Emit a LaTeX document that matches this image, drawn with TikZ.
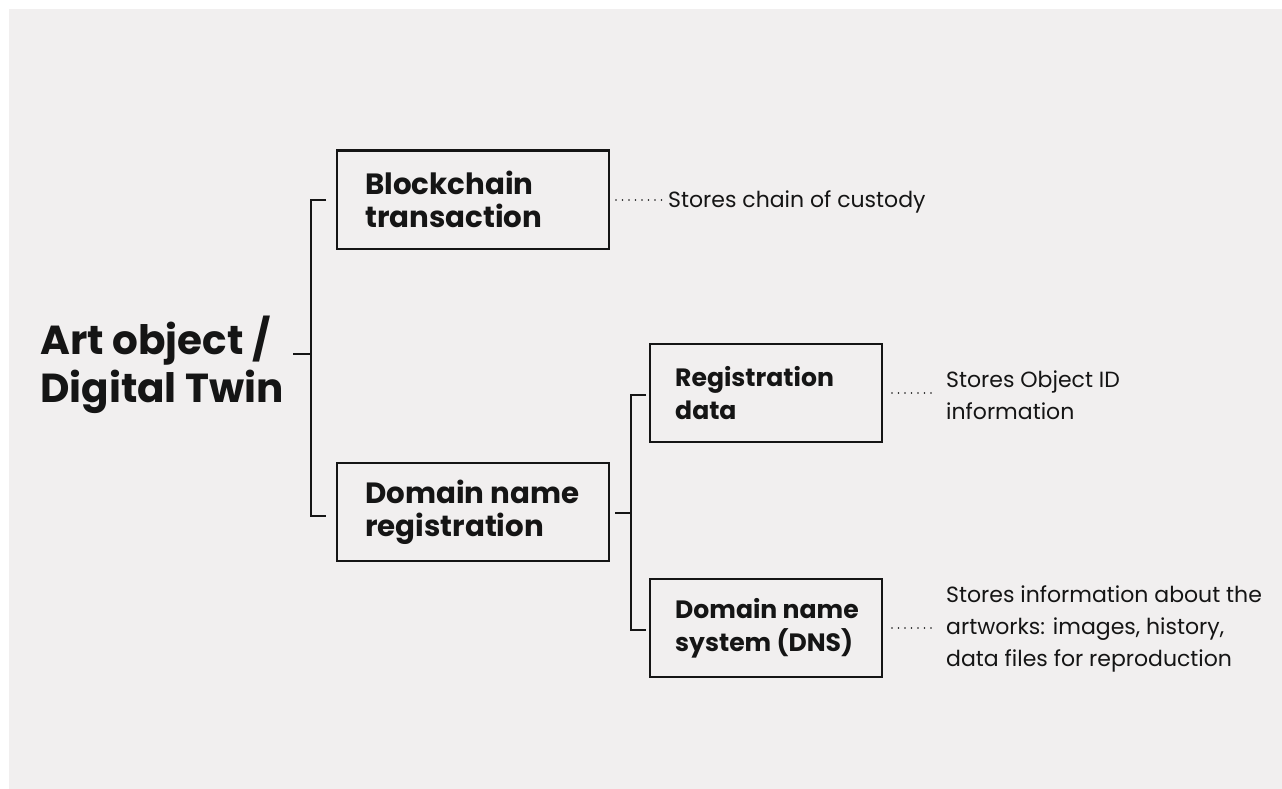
\documentclass[tikz,border=0pt]{standalone}
\usepackage{fontspec}
\setmainfont{Poppins}
\definecolor{bg}{HTML}{F1EFEF}
\definecolor{ink}{HTML}{151515}
\begin{document}
\begin{tikzpicture}[x=1pt,y=-1pt,
  boxnode/.style={draw=ink, line width=2pt, minimum height=98pt, inner sep=0pt},
  widebox/.style={boxnode, minimum width=272pt},
  narrowbox/.style={boxnode, minimum width=232pt},
  boxtext/.style={anchor=west, align=left, inner sep=0pt, text=ink},
  bigtext/.style={boxtext, font=\bfseries\fontsize{29.3}{33}\selectfont},
  smalltext/.style={boxtext, font=\bfseries\fontsize{25.1}{33}\selectfont},
  desc/.style={anchor=west, align=left, inner sep=0pt, text=ink, font=\fontsize{22}{32}\selectfont},
  bracket/.style={draw=ink, line width=2pt},
  dotline/.style={draw=ink, line width=1.8pt, line cap=round, dash pattern=on 0pt off 6.5pt}]
\useasboundingbox (0,0) rectangle (1282,789);
\fill[white] (0,0) rectangle (1282,789);
\fill[bg] (9,9) rectangle (1282,789);

% root
\node[anchor=west, align=left, inner sep=0pt, text=ink, font=\bfseries\fontsize{40.5}{48}\selectfont] (art) at (40,365) {Art object /\\Digital Twin};

% boxes
\node[widebox] (bc) at (473,199.5) {};
\node[widebox] (dnr) at (473,512) {};
\node[narrowbox] (rd) at (766,393) {};
\node[narrowbox] (dns) at (766,628) {};
\node[bigtext] (bct) at ([xshift=29pt]bc.west) {Blockchain\\transaction};
\node[bigtext] (dnrt) at ([xshift=29pt]dnr.west) {Domain name\\registration};
\node[smalltext] (rdt) at ([xshift=26pt]rd.west) {Registration\\data};
\node[smalltext] (dnst) at ([xshift=26pt]dns.west) {Domain name\\system (DNS)};

% descriptions
\node[desc] (d1) at (668,202) {Stores chain of custody};
\node[desc] (d2) at (946,395) {Stores Object ID\\information};
\node[desc] (d3) at (946,629) {Stores information about the\\artworks: images, history,\\data files for reproduction};

% bracket 1
\coordinate (a0) at (293,354);
\coordinate (a1) at (311,354);
\coordinate (t0) at (326,200);
\coordinate (b0) at (326,516);
\draw[bracket] (a0) -- (a1);
\draw[bracket] (t0) -| (a1) |- (b0);

% bracket 2
\coordinate (c0) at (615,513);
\coordinate (c1) at (631,513);
\coordinate (t1) at (646,395);
\coordinate (b1) at (646,630);
\draw[bracket] (c0) -- (c1);
\draw[bracket] (t1) -| (c1) |- (b1);

% dotted leaders
\draw[dotline] ([xshift=6pt]bc.east |- 0,200) -- (662,200);
\draw[dotline] ([xshift=9pt]rd.east |- 0,393) -- (935,393);
\draw[dotline] ([xshift=9pt]dns.east |- 0,628) -- (935,628);
\end{tikzpicture}
\end{document}
